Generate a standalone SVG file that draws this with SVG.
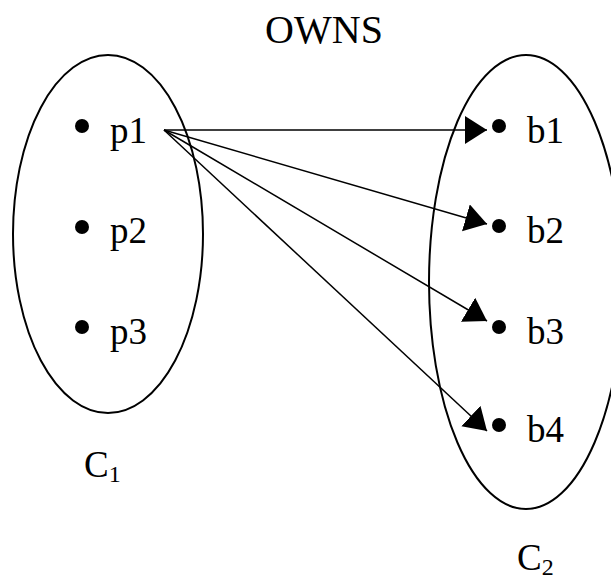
<svg xmlns="http://www.w3.org/2000/svg" width="611" height="581" viewBox="0 0 611 581">
<style>
.t{font-family:"Liberation Serif","Times New Roman",serif;font-size:37px;fill:#000}
.s{font-family:"Liberation Serif","Times New Roman",serif;font-size:24px;fill:#000}
.e{fill:none;stroke:#000;stroke-width:2}
.c{stroke:#000;stroke-width:1.5;fill:none;marker-end:url(#ah)}
</style>
<defs>
<marker id="ah" markerUnits="userSpaceOnUse" markerWidth="24" markerHeight="30" refX="22" refY="14" orient="auto">
<path d="M0,0 L22,14 L0,28 Z" fill="#000"/>
</marker>
</defs>
<rect width="611" height="581" fill="#fff"/>
<text class="t" x="324" y="43" text-anchor="middle" style="font-size:40px">OWNS</text>
<g id="C1">
<ellipse class="e" cx="108" cy="234" rx="95" ry="179"/>
<text class="t" x="84" y="477">C<tspan class="s" dy="5">1</tspan></text>
</g>
<g id="C2">
<ellipse class="e" cx="526" cy="282" rx="97" ry="227"/>
<text class="t" x="517" y="570">C<tspan class="s" dy="5">2</tspan></text>
</g>
<g id="p1"><circle cx="82" cy="126" r="7"/><text class="t" x="110" y="143">p1</text></g>
<g id="p2"><circle cx="82" cy="227" r="7"/><text class="t" x="110" y="243">p2</text></g>
<g id="p3"><circle cx="82" cy="327" r="7"/><text class="t" x="110" y="344">p3</text></g>
<g id="b1"><circle cx="499" cy="126" r="7"/><text class="t" x="527" y="143">b1</text></g>
<g id="b2"><circle cx="499" cy="226" r="7"/><text class="t" x="527" y="243">b2</text></g>
<g id="b3"><circle cx="499" cy="327" r="7"/><text class="t" x="527" y="344">b3</text></g>
<g id="b4"><circle cx="499" cy="425" r="7"/><text class="t" x="527" y="442">b4</text></g>
<g id="connectors">
<line class="c" x1="164" y1="130" x2="487" y2="130"/>
<line class="c" x1="164" y1="130" x2="487" y2="224"/>
<line class="c" x1="164" y1="130" x2="487" y2="321"/>
<line class="c" x1="164" y1="130" x2="487" y2="431"/>
</g>
</svg>
